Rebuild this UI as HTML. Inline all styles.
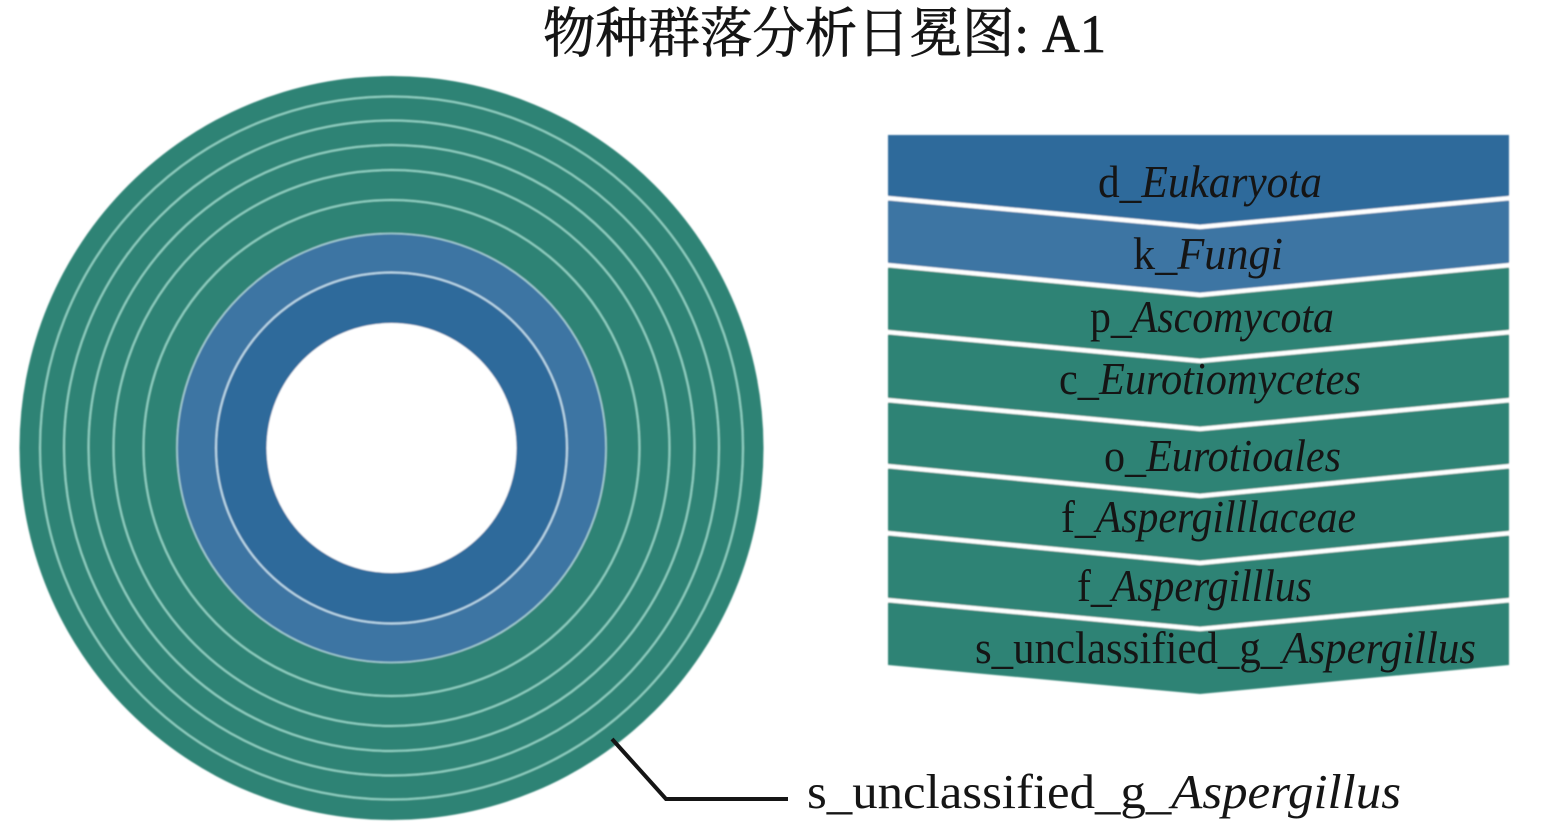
<!DOCTYPE html>
<html lang="zh">
<head>
<meta charset="utf-8">
<title>物种群落分析日冕图: A1</title>
<style>
html,body{margin:0;padding:0;background:#fff;width:1548px;height:829px;overflow:hidden}
svg{display:block}
text{font-family:"Liberation Serif","Noto Serif CJK SC",serif;fill:#151515}
.l{font-size:46px}
.it{font-style:italic}
</style>
</head>
<body>
<svg width="1548" height="829" viewBox="0 0 1548 829" xmlns="http://www.w3.org/2000/svg">
<defs><filter id="b" x="-2%" y="-2%" width="104%" height="104%"><feGaussianBlur stdDeviation="0.7"/></filter></defs>

<text x="543" y="52" font-size="54" textLength="563" lengthAdjust="spacingAndGlyphs" stroke="#151515" stroke-width="0.7">物种群落分析日冕图: A1</text>

<g filter="url(#b)">
  <circle cx="391.5" cy="448" r="372" fill="#2f8375"/>
  <circle cx="391.5" cy="448" r="214.5" fill="#3d75a3"/>
  <circle cx="391.5" cy="448" r="175.5" fill="#2e6b9b"/>
  <circle cx="391.5" cy="448" r="125" fill="#fff"/>
  <g fill="none" stroke="#8fd0c2" stroke-width="2">
    <circle cx="391.5" cy="448" r="351.5"/>
    <circle cx="391.5" cy="448" r="327.5"/>
    <circle cx="391.5" cy="448" r="303"/>
    <circle cx="391.5" cy="448" r="278"/>
    <circle cx="391.5" cy="448" r="248"/>
  </g>
  <circle cx="391.5" cy="448" r="214.5" fill="none" stroke="#a6cfd6" stroke-width="1.6"/>
  <circle cx="391.5" cy="448" r="175.5" fill="none" stroke="#bcd8e8" stroke-width="2"/>

  <polygon points="888,135 1509,135 1509,198 1200,227 888,198" fill="#2e6b9b"/>
  <polygon points="888,198 1200,227 1509,198 1509,265 1200,295 888,265" fill="#3d75a3"/>
  <polygon points="888,265 1200,295 1509,265 1509,332 1200,361 888,332" fill="#2f8375"/>
  <polygon points="888,332 1200,361 1509,332 1509,400 1200,429 888,400" fill="#2f8375"/>
  <polygon points="888,400 1200,429 1509,400 1509,466 1200,496 888,466" fill="#2f8375"/>
  <polygon points="888,466 1200,496 1509,466 1509,533 1200,563 888,533" fill="#2f8375"/>
  <polygon points="888,533 1200,563 1509,533 1509,600 1200,629 888,600" fill="#2f8375"/>
  <polygon points="888,600 1200,629 1509,600 1509,665 1200,694 888,665" fill="#2f8375"/>
  <g fill="none" stroke="#fff" stroke-width="4.5">
    <polyline points="886,198 1200,227 1511,198"/>
    <polyline points="886,265 1200,295 1511,265"/>
    <polyline points="886,332 1200,361 1511,332"/>
    <polyline points="886,400 1200,429 1511,400"/>
    <polyline points="886,466 1200,496 1511,466"/>
    <polyline points="886,533 1200,563 1511,533"/>
    <polyline points="886,600 1200,629 1511,600"/>
  </g>
</g>

<polyline points="612,739 666,799 788,799" fill="none" stroke="#151515" stroke-width="4"/>

<text class="l" x="1098" y="197" textLength="224" lengthAdjust="spacingAndGlyphs">d_<tspan class="it">Eukaryota</tspan></text>
<text class="l" x="1133" y="269" textLength="150" lengthAdjust="spacingAndGlyphs">k_<tspan class="it">Fungi</tspan></text>
<text class="l" x="1090" y="332" textLength="244" lengthAdjust="spacingAndGlyphs">p_<tspan class="it">Ascomycota</tspan></text>
<text class="l" x="1059" y="394" textLength="302" lengthAdjust="spacingAndGlyphs">c_<tspan class="it">Eurotiomycetes</tspan></text>
<text class="l" x="1104" y="471" textLength="237" lengthAdjust="spacingAndGlyphs">o_<tspan class="it">Eurotioales</tspan></text>
<text class="l" x="1061" y="532" textLength="295" lengthAdjust="spacingAndGlyphs">f_<tspan class="it">Aspergilllaceae</tspan></text>
<text class="l" x="1077" y="601" textLength="235" lengthAdjust="spacingAndGlyphs">f_<tspan class="it">Aspergilllus</tspan></text>
<text class="l" x="975" y="663" textLength="501" lengthAdjust="spacingAndGlyphs">s_unclassified_g_<tspan class="it">Aspergillus</tspan></text>
<text x="807" y="808" font-size="49" textLength="594" lengthAdjust="spacingAndGlyphs">s_unclassified_g_<tspan class="it">Aspergillus</tspan></text>
</svg>
</body>
</html>
